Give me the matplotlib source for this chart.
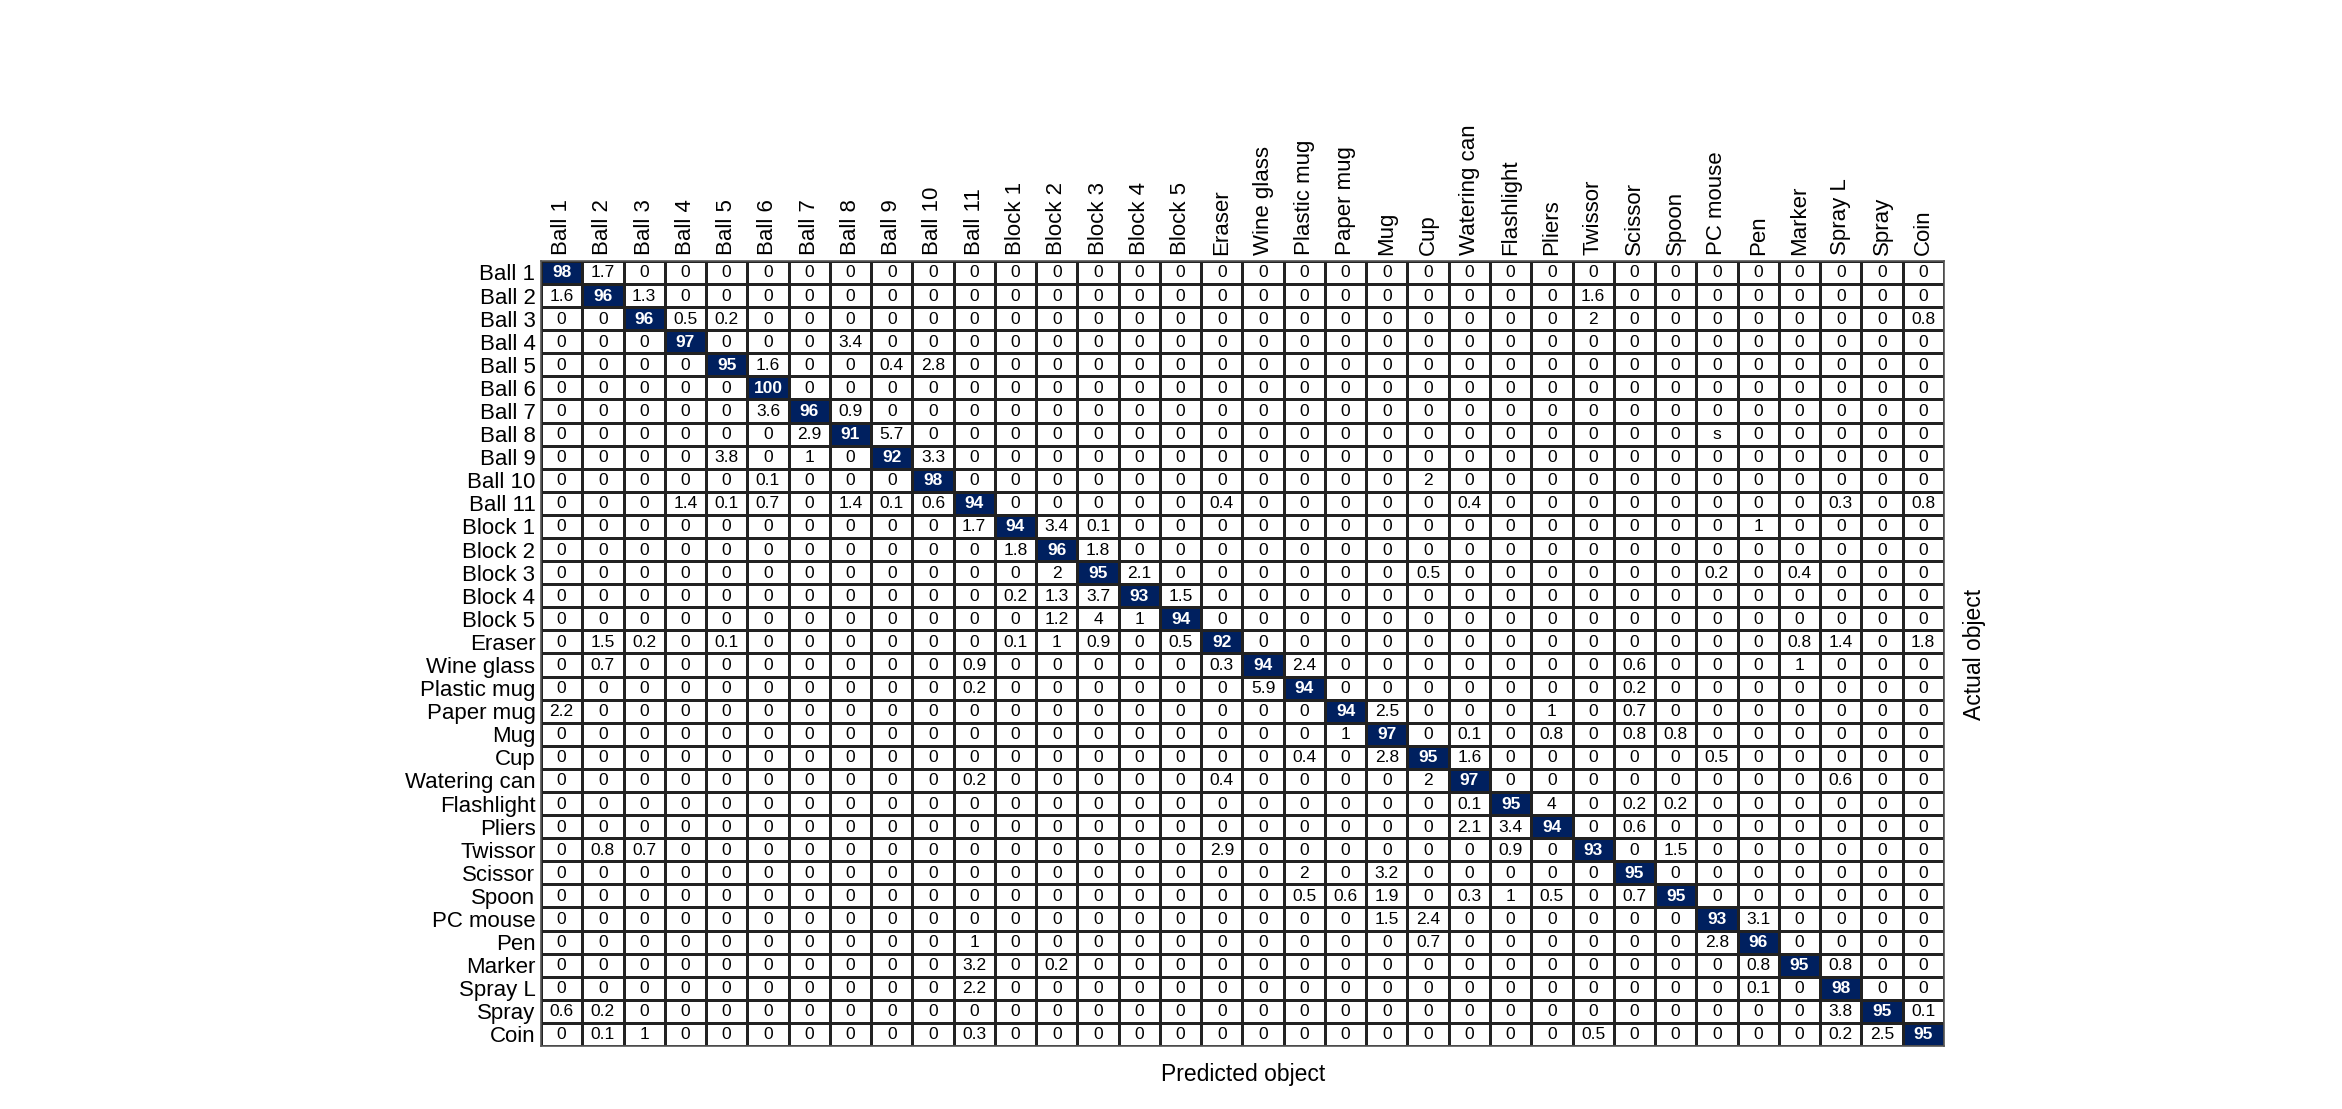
import numpy as np
import matplotlib
matplotlib.use("Agg")
import matplotlib.pyplot as plt
from matplotlib.colors import ListedColormap, BoundaryNorm

plt.rcParams['font.family'] = ['Liberation Sans', 'DejaVu Sans']

categories = ["Ball 1", "Ball 2", "Ball 3", "Ball 4", "Ball 5", "Ball 6", "Ball 7", "Ball 8",
              "Ball 9", "Ball 10", "Ball 11", "Block 1", "Block 2", "Block 3", "Block 4",
              "Block 5", "Eraser", "Wine glass", "Plastic mug", "Paper mug", "Mug", "Cup",
              "Watering can", "Flashlight", "Pliers", "Twissor", "Scissor", "Spoon",
              "PC mouse", "Pen", "Marker", "Spray L", "Spray", "Coin"]

# diagonal entries (correct classification, %)
diagonal = [98, 96, 96, 97, 95, 100, 96, 91, 92, 98, 94, 94, 96, 95, 93, 94, 92, 94, 94,
            94, 97, 95, 97, 95, 94, 93, 95, 95, 93, 96, 95, 98, 95, 95]

# off-diagonal entries: (row, col, value); all other cells are 0
off_diagonal = [
    (0, 1, 1.7),
    (1, 0, 1.6), (1, 2, 1.3), (1, 25, 1.6),
    (2, 3, 0.5), (2, 4, 0.2), (2, 25, 2), (2, 33, 0.8),
    (3, 7, 3.4),
    (4, 5, 1.6), (4, 8, 0.4), (4, 9, 2.8),
    (6, 5, 3.6), (6, 7, 0.9),
    (7, 6, 2.9), (7, 8, 5.7),
    (8, 4, 3.8), (8, 6, 1), (8, 9, 3.3),
    (9, 5, 0.1), (9, 21, 2),
    (10, 3, 1.4), (10, 4, 0.1), (10, 5, 0.7), (10, 7, 1.4), (10, 8, 0.1), (10, 9, 0.6),
    (10, 16, 0.4), (10, 22, 0.4), (10, 31, 0.3), (10, 33, 0.8),
    (11, 10, 1.7), (11, 12, 3.4), (11, 13, 0.1), (11, 29, 1),
    (12, 11, 1.8), (12, 13, 1.8),
    (13, 12, 2), (13, 14, 2.1), (13, 21, 0.5), (13, 28, 0.2), (13, 30, 0.4),
    (14, 11, 0.2), (14, 12, 1.3), (14, 13, 3.7), (14, 15, 1.5),
    (15, 12, 1.2), (15, 13, 4), (15, 14, 1),
    (16, 1, 1.5), (16, 2, 0.2), (16, 4, 0.1), (16, 11, 0.1), (16, 12, 1), (16, 13, 0.9),
    (16, 15, 0.5), (16, 30, 0.8), (16, 31, 1.4), (16, 33, 1.8),
    (17, 1, 0.7), (17, 10, 0.9), (17, 16, 0.3), (17, 18, 2.4), (17, 26, 0.6), (17, 30, 1),
    (18, 10, 0.2), (18, 17, 5.9), (18, 26, 0.2),
    (19, 0, 2.2), (19, 20, 2.5), (19, 24, 1), (19, 26, 0.7),
    (20, 19, 1), (20, 22, 0.1), (20, 24, 0.8), (20, 26, 0.8), (20, 27, 0.8),
    (21, 18, 0.4), (21, 20, 2.8), (21, 22, 1.6), (21, 28, 0.5),
    (22, 10, 0.2), (22, 16, 0.4), (22, 21, 2), (22, 31, 0.6),
    (23, 22, 0.1), (23, 24, 4), (23, 26, 0.2), (23, 27, 0.2),
    (24, 22, 2.1), (24, 23, 3.4), (24, 26, 0.6),
    (25, 1, 0.8), (25, 2, 0.7), (25, 16, 2.9), (25, 23, 0.9), (25, 27, 1.5),
    (26, 18, 2), (26, 20, 3.2),
    (27, 18, 0.5), (27, 19, 0.6), (27, 20, 1.9), (27, 22, 0.3), (27, 23, 1), (27, 24, 0.5),
    (27, 26, 0.7),
    (28, 20, 1.5), (28, 21, 2.4), (28, 29, 3.1),
    (29, 10, 1), (29, 21, 0.7), (29, 28, 2.8),
    (30, 10, 3.2), (30, 12, 0.2), (30, 29, 0.8), (30, 31, 0.8),
    (31, 10, 2.2), (31, 29, 0.1),
    (32, 0, 0.6), (32, 1, 0.2), (32, 31, 3.8), (32, 33, 0.1),
    (33, 1, 0.1), (33, 2, 1), (33, 10, 0.3), (33, 25, 0.5), (33, 31, 0.2), (33, 32, 2.5),
]

# a cell whose printed text in the source is not a number
text_overrides = {(7, 28): "s"}

n = len(categories)
M = np.zeros((n, n))
for i, v in enumerate(diagonal):
    M[i, i] = v
for r, c, v in off_diagonal:
    M[r, c] = v

navy = "#00205f"
fig = plt.figure(figsize=(23.42, 11.09), dpi=100)
ax = fig.add_axes([0.231, 0.0568, 0.599, 0.7079])

cmap = ListedColormap(["white", navy])
norm = BoundaryNorm([0, 50, 101], 2)
ax.pcolormesh(np.arange(n + 1), np.arange(n + 1), M, cmap=cmap, norm=norm,
              edgecolors="#222222", linewidth=1.0)
ax.set_xlim(0, n)
ax.set_ylim(n, 0)

for r in range(n):
    for c in range(n):
        v = M[r, c]
        txt = text_overrides.get((r, c), f"{v:g}")
        hi = v >= 50
        ax.text(c + 0.5, r + 0.52, txt, ha="center", va="center",
                fontsize=12.5, color="white" if hi else "black",
                fontweight="bold" if hi else "normal")

ax.set_xticks(np.arange(n) + 0.5)
ax.set_xticklabels(categories, rotation=90, fontsize=16)
ax.xaxis.tick_top()
ax.set_yticks(np.arange(n) + 0.5)
ax.set_yticklabels(categories, fontsize=16)
ax.tick_params(length=0, pad=4)
for s in ax.spines.values():
    s.set_color("#555555")
    s.set_linewidth(1.2)

fig.text(0.531, 0.031, "Predicted object", ha="center", va="center", fontsize=16.5)
fig.text(0.843, 0.41, "Actual object", ha="center", va="center", rotation=90, fontsize=16.5)

fig.savefig("out.png", dpi=100, facecolor="white")
